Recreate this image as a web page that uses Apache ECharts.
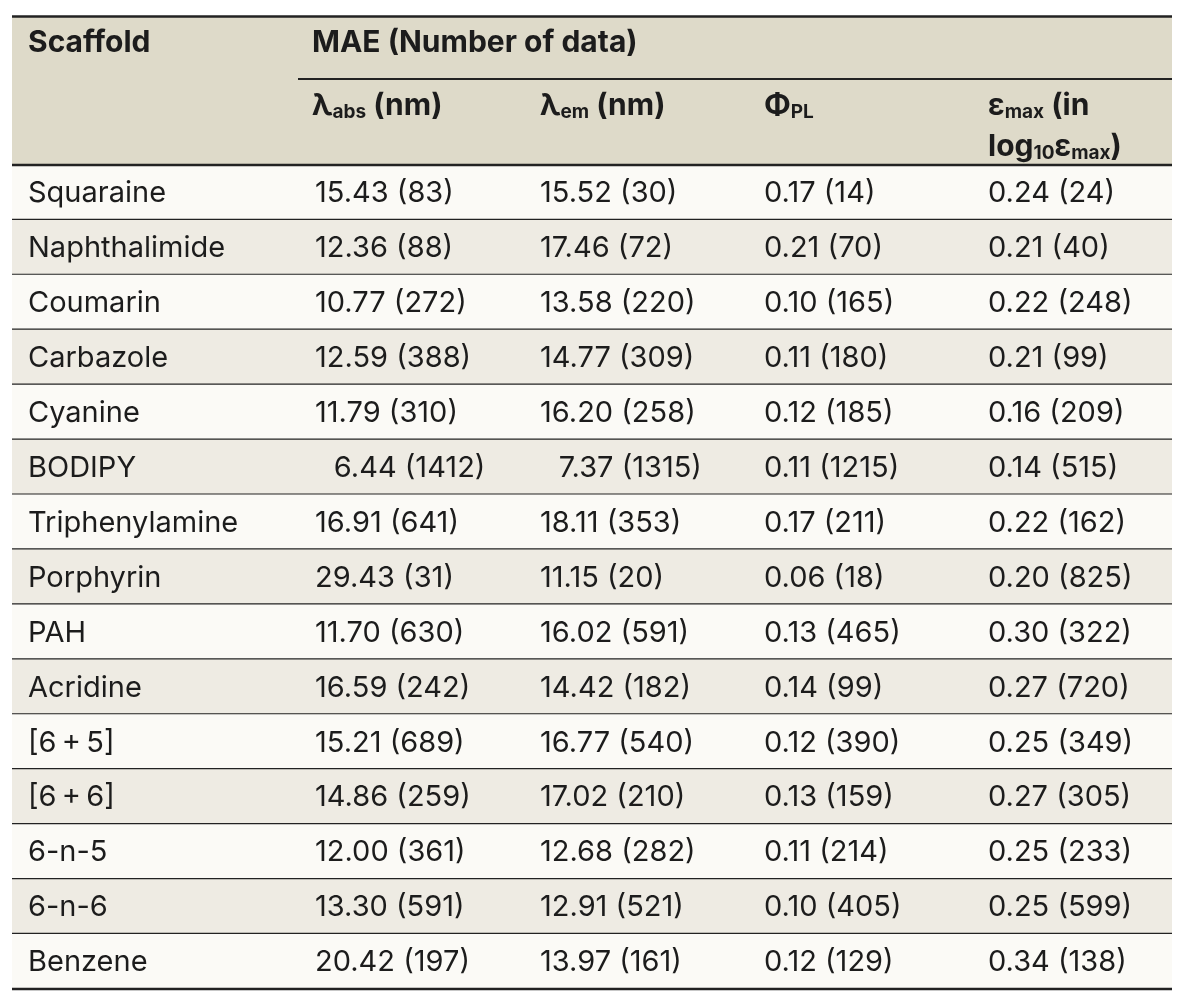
<!DOCTYPE html>
<html>
<head>
<meta charset="utf-8">
<script src="https://cdn.jsdelivr.net/npm/echarts@6/dist/echarts.min.js"></script>
<style>
  html, body { margin: 0; padding: 0; background: #fff; }
  #chart { width: 1186px; height: 1004px; }
</style>
</head>
<body>
<div id="chart"></div>
<script>
// table data, one array per column
const scaffolds = ['Squaraine', 'Naphthalimide', 'Coumarin', 'Carbazole', 'Cyanine', 'BODIPY',
  'Triphenylamine', 'Porphyrin', 'PAH', 'Acridine', '[6\u2009+\u20095]', '[6\u2009+\u20096]', '6-n-5', '6-n-6', 'Benzene'];
const absMae = [15.43, 12.36, 10.77, 12.59, 11.79, 6.44, 16.91, 29.43, 11.70, 16.59, 15.21, 14.86, 12.00, 13.30, 20.42];
const absN = [83, 88, 272, 388, 310, 1412, 641, 31, 630, 242, 689, 259, 361, 591, 197];
const emMae = [15.52, 17.46, 13.58, 14.77, 16.20, 7.37, 18.11, 11.15, 16.02, 14.42, 16.77, 17.02, 12.68, 12.91, 13.97];
const emN = [30, 72, 220, 309, 258, 1315, 353, 20, 591, 182, 540, 210, 282, 521, 161];
const plMae = [0.17, 0.21, 0.10, 0.11, 0.12, 0.11, 0.17, 0.06, 0.13, 0.14, 0.12, 0.13, 0.11, 0.10, 0.12];
const plN = [14, 70, 165, 180, 185, 1215, 211, 18, 465, 99, 390, 159, 214, 405, 129];
const epsMae = [0.24, 0.21, 0.22, 0.21, 0.16, 0.14, 0.22, 0.20, 0.30, 0.27, 0.25, 0.27, 0.25, 0.25, 0.34];
const epsN = [24, 40, 248, 99, 209, 515, 162, 825, 322, 720, 349, 305, 233, 599, 138];

const FONT = 'Inter, "Noto Sans", sans-serif';
const INK = '#1c1c1c';
const colX = [16, 303, 528, 752, 976];   // left edge of text in each column (axis units)

function cell(v, n) {
  let s = v.toFixed(2);
  if (v < 10 && v >= 1) s = '\u2007' + s;
  return s + ' (' + n + ')';
}

const chart = echarts.init(document.getElementById('chart'));

function renderRow(params, api) {
  const i = params.dataIndex;
  const p0 = api.coord([0, i]);
  const p1 = api.coord([1160, i]);
  const h = api.size([0, 1])[1];
  const top = p0[1] - h / 2;
  const texts = [scaffolds[i], cell(absMae[i], absN[i]), cell(emMae[i], emN[i]),
    cell(plMae[i], plN[i]), cell(epsMae[i], epsN[i])];
  const children = [{
    type: 'rect',
    shape: { x: p0[0], y: top, width: p1[0] - p0[0], height: h },
    style: { fill: i % 2 === 0 ? '#fbfaf6' : '#eeebe3' }
  }];
  texts.forEach(function (t, c) {
    children.push({
      type: 'text',
      style: {
        text: t, x: api.coord([colX[c], i])[0], y: p0[1] + 1,
        fill: INK, fontSize: 29, fontFamily: FONT, align: 'left', verticalAlign: 'middle'
      }
    });
  });
  children.push({
    type: 'line',
    shape: { x1: p0[0], y1: top + h, x2: p1[0], y2: top + h },
    style: { stroke: '#222', lineWidth: 2.4 }
  });
  return { type: 'group', children: children };
}

const bold = { fontSize: 30, fontWeight: 'bold', fontFamily: FONT, fill: INK };
const rich = {
  b: { fontSize: 30, fontWeight: 'bold', fontFamily: FONT, color: INK, lineHeight: 36 },
  s: { fontSize: 19, fontWeight: 'bold', fontFamily: FONT, color: INK, lineHeight: 36, padding: [13, 0, 0, 0] }
};
function headText(x, y, text) {
  return {
    type: 'text', x: x, y: y, z: 10,
    style: { text: text, rich: rich, verticalAlign: 'middle', align: 'left', fill: INK }
  };
}

chart.setOption({
  animation: false,
  grid: { left: 12, right: 14, top: 165, bottom: 15 },
  xAxis: { type: 'value', min: 0, max: 1160, show: false },
  yAxis: { type: 'category', data: scaffolds, inverse: true, show: false },
  graphic: [
    { type: 'rect', shape: { x: 12, y: 16, width: 1160, height: 149 }, style: { fill: '#dedac9' } },
    { type: 'line', shape: { x1: 12, y1: 16.5, x2: 1172, y2: 16.5 }, style: { stroke: '#222', lineWidth: 2.5 } },
    { type: 'line', shape: { x1: 298, y1: 79, x2: 1172, y2: 79 }, style: { stroke: '#222', lineWidth: 2 } },
    { type: 'line', shape: { x1: 12, y1: 165, x2: 1172, y2: 165 }, style: { stroke: '#222', lineWidth: 2.4 }, z: 20 },
    { type: 'text', x: 28, y: 43, style: Object.assign({ text: 'Scaffold', verticalAlign: 'middle' }, bold) },
    { type: 'text', x: 312, y: 43, style: Object.assign({ text: 'MAE (Number of data)', verticalAlign: 'middle' }, bold) },
    headText(312, 106, '{b|λ}{s|abs}{b| (nm)}'),
    headText(540, 106, '{b|λ}{s|em}{b| (nm)}'),
    headText(764, 106, '{b|Φ}{s|PL}'),
    headText(988, 106, '{b|ε}{s|max}{b| (in}'),
    headText(988, 147, '{b|log}{s|10}{b|ε}{s|max}{b|)}')
  ],
  series: [{
    type: 'custom',
    renderItem: renderRow,
    data: scaffolds.map(function (s, i) { return [0, i]; }),
    encode: { x: 0, y: 1 },
    silent: true
  }]
});
</script>
</body>
</html>
